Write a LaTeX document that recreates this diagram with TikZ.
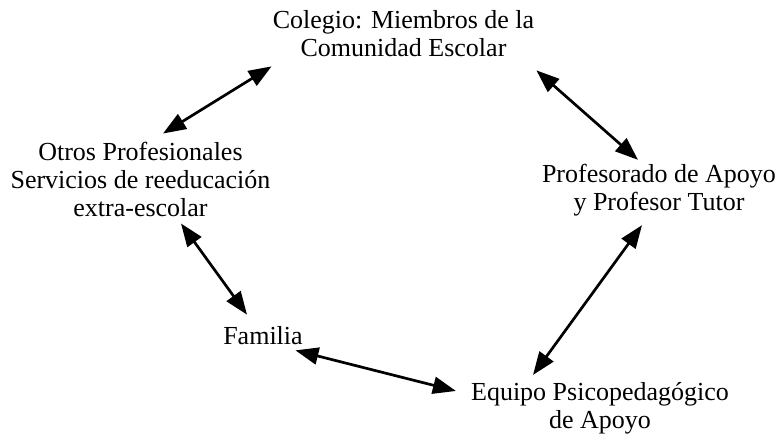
\documentclass[tikz,border=0pt]{standalone}
\usepackage{fontspec}
\setmainfont{Liberation Serif}
\usetikzlibrary{arrows.meta}

\begin{document}
\begin{tikzpicture}[x=1pt, y=-1pt,
  box/.style={anchor=center, inner sep=0pt, align=center, font=\fontsize{26}{28}\selectfont},
  link/.style={{Triangle[length=23pt,width=17pt]}-{Triangle[length=23pt,width=17pt]}, line width=2.7pt}]
\useasboundingbox (0,0) rectangle (783,434);

\node[box] (col) at (403.5,34) {Colegio: Miembros de la\\Comunidad Escolar};
\node[box] (pro) at (659,190) {Profesorado de Apoyo\\y Profesor Tutor};
\node[box] (otr) at (140.5,179) {Otros Profesionales\\Servicios de reeducación\\extra-escolar};
\node[box] (fam) at (263,336) {Familia};
\node[box] (equ) at (600,408) {Equipo Psicopedagógico\\de Apoyo};

\draw[link] ([shift={(-1,9)}]col.south west) -- ([shift={(22.5,-8)}]otr.north);
\draw[link] ([shift={(2,13)}]col.south east) -- ([shift={(-21,-4)}]pro.north);
\draw[link] ([shift={(40.5,7)}]otr.south) -- ([shift={(-16,-12)}]fam.north);
\draw[link] ([shift={(-7.5,5)}]fam.south east) -- ([shift={(-15,9)}]equ.north west);
\draw[link] ([shift={(-17,9)}]pro.south) -- ([shift={(-67,-7)}]equ.north);
\end{tikzpicture}
\end{document}
